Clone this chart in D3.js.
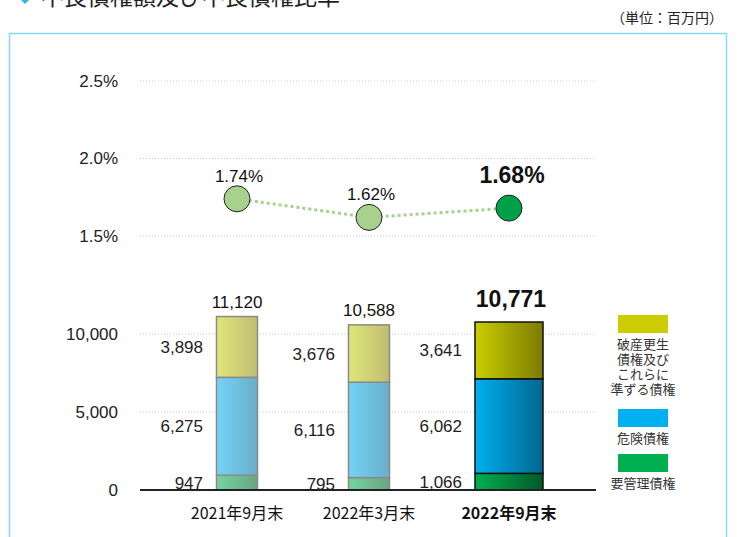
<!DOCTYPE html>
<html>
<head>
<meta charset="utf-8">
<script src="https://cdn.jsdelivr.net/npm/d3@7"></script>
<style>
  body { margin: 0; background: #fff; }
  svg { display: block; font-family: "Liberation Sans", Arial, sans-serif; }
  .jp { font-family: "Noto Sans CJK JP", sans-serif; }
</style>
</head>
<body>
<script>
// data
var categories = ["2021年9月末", "2022年3月末", "2022年9月末"];
var seriesNames = ["要管理債権", "危険債権", "破産更生債権及びこれらに準ずる債権"];
var kanri = [947, 795, 1066];
var kiken = [6275, 6116, 6062];
var hasan = [3898, 3676, 3641];
var totals = [11120, 10588, 10771];
var ratio = [1.74, 1.62, 1.68];
var pctTicks = [1.5, 2.0, 2.5];
var amtTicks = [0, 5000, 10000];

var width = 737, height = 537;
var svg = d3.select("body").append("svg")
    .attr("width", width)
    .attr("height", height);

// gradients
var defs = svg.append("defs");
var grads = [
    ["g_old_0", "#74d49f", "#6aa583"],
    ["g_old_1", "#73d3f5", "#6aaeca"],
    ["g_old_2", "#e0e57a", "#bfbd70"],
    ["g_new_0", "#00b050", "#005a28"],
    ["g_new_1", "#00b0f0", "#00668f"],
    ["g_new_2", "#cacd00", "#7c7c00"]
];
grads.forEach(function (g) {
    var lg = defs.append("linearGradient").attr("id", g[0])
        .attr("x1", "0%").attr("x2", "100%").attr("y1", "0%").attr("y2", "0%");
    lg.append("stop").attr("offset", "0%").attr("stop-color", g[1]);
    lg.append("stop").attr("offset", "100%").attr("stop-color", g[2]);
});

// title (cut off at top) and unit
svg.append("path")
    .attr("d", "M25,-3 L29,0 L25,4 L21,0 Z")
    .attr("fill", "#2fb4ea");
svg.append("text").attr("class", "jp")
    .attr("x", 41).attr("y", 5)
    .attr("font-size", 23).attr("fill", "#222")
    .text("不良債権額及び不良債権比率");
svg.append("text").attr("class", "jp")
    .attr("x", 723).attr("y", 23)
    .attr("text-anchor", "end")
    .attr("font-size", 14).attr("fill", "#222")
    .text("（単位：百万円）");

// frame
svg.append("rect")
    .attr("x", 9.5).attr("y", 33.5)
    .attr("width", 717).attr("height", 520)
    .attr("fill", "none")
    .attr("stroke", "#86d8f6")
    .attr("stroke-width", 1.5);

// scales
var x = d3.scaleOrdinal().domain(categories).range([237, 369, 509]);
var yPct = d3.scaleLinear().domain([1.5, 2.5]).range([236, 81]);
var yAmt = d3.scaleLinear().domain([0, 10000]).range([490, 334]);
var gridX0 = 140, gridX1 = 596;

// percent axis
var pctAxis = svg.append("g")
    .call(d3.axisLeft(yPct).tickValues(pctTicks)
        .tickSize(0).tickPadding(0)
        .tickFormat(function (d) { return d3.format(".1f")(d) + "%"; }))
    .attr("transform", "translate(118,0)");
pctAxis.select(".domain").remove();
pctAxis.selectAll("text").attr("font-size", 17).attr("fill", "#222")
    .attr("font-family", "Liberation Sans, Arial, sans-serif");

svg.selectAll(".pctGrid")
    .data(pctTicks)
    .enter().append("line")
    .attr("class", "pctGrid")
    .attr("x1", gridX0).attr("x2", gridX1)
    .attr("y1", function (d) { return yPct(d); })
    .attr("y2", function (d) { return yPct(d); })
    .attr("stroke", "#c8c8c8").attr("stroke-dasharray", "1,2");

// amount axis
var amtAxis = svg.append("g")
    .call(d3.axisLeft(yAmt).tickValues(amtTicks)
        .tickSize(0).tickPadding(0)
        .tickFormat(d3.format(",")))
    .attr("transform", "translate(118,0)");
amtAxis.select(".domain").remove();
amtAxis.selectAll("text").attr("font-size", 17).attr("fill", "#222")
    .attr("font-family", "Liberation Sans, Arial, sans-serif");

svg.selectAll(".amtGrid")
    .data(amtTicks.filter(function (d) { return d > 0; }))
    .enter().append("line")
    .attr("class", "amtGrid")
    .attr("x1", gridX0).attr("x2", gridX1)
    .attr("y1", function (d) { return yAmt(d); })
    .attr("y2", function (d) { return yAmt(d); })
    .attr("stroke", "#c8c8c8").attr("stroke-dasharray", "1,2");

// stacked bars
var rows = categories.map(function (c, i) {
    return { cat: c, i: i, s0: kanri[i], s1: kiken[i], s2: hasan[i] };
});
var stack = d3.stack().keys(["s0", "s1", "s2"])(rows);

stack.forEach(function (layer, k) {
    svg.selectAll(".bar" + k)
        .data(layer)
        .enter().append("rect")
        .attr("class", "bar" + k)
        .attr("x", function (d) { return x(d.data.cat) - (d.data.i == 2 ? 34 : 20.5); })
        .attr("width", function (d) { return d.data.i == 2 ? 68 : 41; })
        .attr("y", function (d) { return yAmt(d[1]); })
        .attr("height", function (d) { return yAmt(d[0]) - yAmt(d[1]); })
        .attr("fill", function (d) { return "url(#" + (d.data.i == 2 ? "g_new_" : "g_old_") + k + ")"; })
        .attr("stroke", function (d) { return d.data.i == 2 ? "#111" : "#8a8a8a"; })
        .attr("stroke-width", 1.5);

    // segment labels
    svg.selectAll(".lab" + k)
        .data(layer)
        .enter().append("text")
        .attr("x", function (d) { return x(d.data.cat) - (d.data.i == 2 ? 47 : 34); })
        .attr("y", function (d) { return (yAmt(d[0]) + yAmt(d[1])) / 2 + 6; })
        .attr("text-anchor", "end")
        .attr("font-size", 17).attr("fill", "#222")
        .text(function (d) { return d3.format(",")(d[1] - d[0]); });
});

// baseline
svg.append("line")
    .attr("x1", gridX0).attr("x2", gridX1)
    .attr("y1", yAmt(0)).attr("y2", yAmt(0))
    .attr("stroke", "#222").attr("stroke-width", 2);

// totals
svg.selectAll(".total")
    .data(totals)
    .enter().append("text")
    .attr("x", function (d, i) { return x(categories[i]) + (i == 2 ? 2 : 0); })
    .attr("y", function (d, i) { return yAmt(d) - (i == 2 ? 15 : 9); })
    .attr("text-anchor", "middle")
    .attr("font-size", function (d, i) { return i == 2 ? 23 : 17; })
    .attr("font-weight", function (d, i) { return i == 2 ? "bold" : "normal"; })
    .attr("fill", "#111")
    .text(function (d) { return d3.format(",")(d); });

// ratio line
var line = d3.line()
    .x(function (d, i) { return x(categories[i]); })
    .y(function (d) { return yPct(d); });
svg.append("path")
    .datum(ratio)
    .attr("d", line)
    .attr("fill", "none")
    .attr("stroke", "#a9d18e")
    .attr("stroke-width", 3)
    .attr("stroke-dasharray", "3,3");

svg.selectAll(".dot")
    .data(ratio)
    .enter().append("circle")
    .attr("cx", function (d, i) { return x(categories[i]); })
    .attr("cy", function (d) { return yPct(d); })
    .attr("r", 13)
    .attr("fill", function (d, i) { return i == 2 ? "#00a048" : "#a9d18e"; })
    .attr("stroke", "#222").attr("stroke-width", 1);

svg.selectAll(".pctLab")
    .data(ratio)
    .enter().append("text")
    .attr("x", function (d, i) { return x(categories[i]) + (i == 2 ? 3 : 2); })
    .attr("y", function (d, i) { return yPct(d) - (i == 2 ? 25 : 17); })
    .attr("text-anchor", "middle")
    .attr("font-size", function (d, i) { return i == 2 ? 23 : 17; })
    .attr("font-weight", function (d, i) { return i == 2 ? "bold" : "normal"; })
    .attr("fill", "#111")
    .text(function (d) { return d3.format(".2f")(d) + "%"; });

// category labels
svg.selectAll(".cat")
    .data(categories)
    .enter().append("text")
    .attr("class", "jp")
    .attr("x", function (d) { return x(d); })
    .attr("y", 519)
    .attr("text-anchor", "middle")
    .attr("font-size", 16)
    .attr("font-weight", function (d, i) { return i == 2 ? "bold" : "normal"; })
    .attr("fill", "#111")
    .text(function (d) { return d; });

// legend
var legendItems = [
    { color: "#cccc00", lines: ["破産更生", "債権及び", "これらに", "準ずる債権"], y: 315 },
    { color: "#00b0f0", lines: ["危険債権"], y: 409 },
    { color: "#00b050", lines: ["要管理債権"], y: 454 }
];
var legend = svg.selectAll(".legend")
    .data(legendItems)
    .enter().append("g")
    .attr("transform", function (d) { return "translate(618," + d.y + ")"; });
legend.append("rect")
    .attr("width", 50).attr("height", 18)
    .attr("fill", function (d) { return d.color; });
legend.each(function (d) {
    d3.select(this).selectAll("text")
        .data(d.lines)
        .enter().append("text")
        .attr("class", "jp")
        .attr("x", 25)
        .attr("y", function (t, j) { return 34 + j * 15; })
        .attr("text-anchor", "middle")
        .attr("font-size", 13)
        .attr("fill", "#333")
        .text(function (t) { return t; });
});
</script>
</body>
</html>
